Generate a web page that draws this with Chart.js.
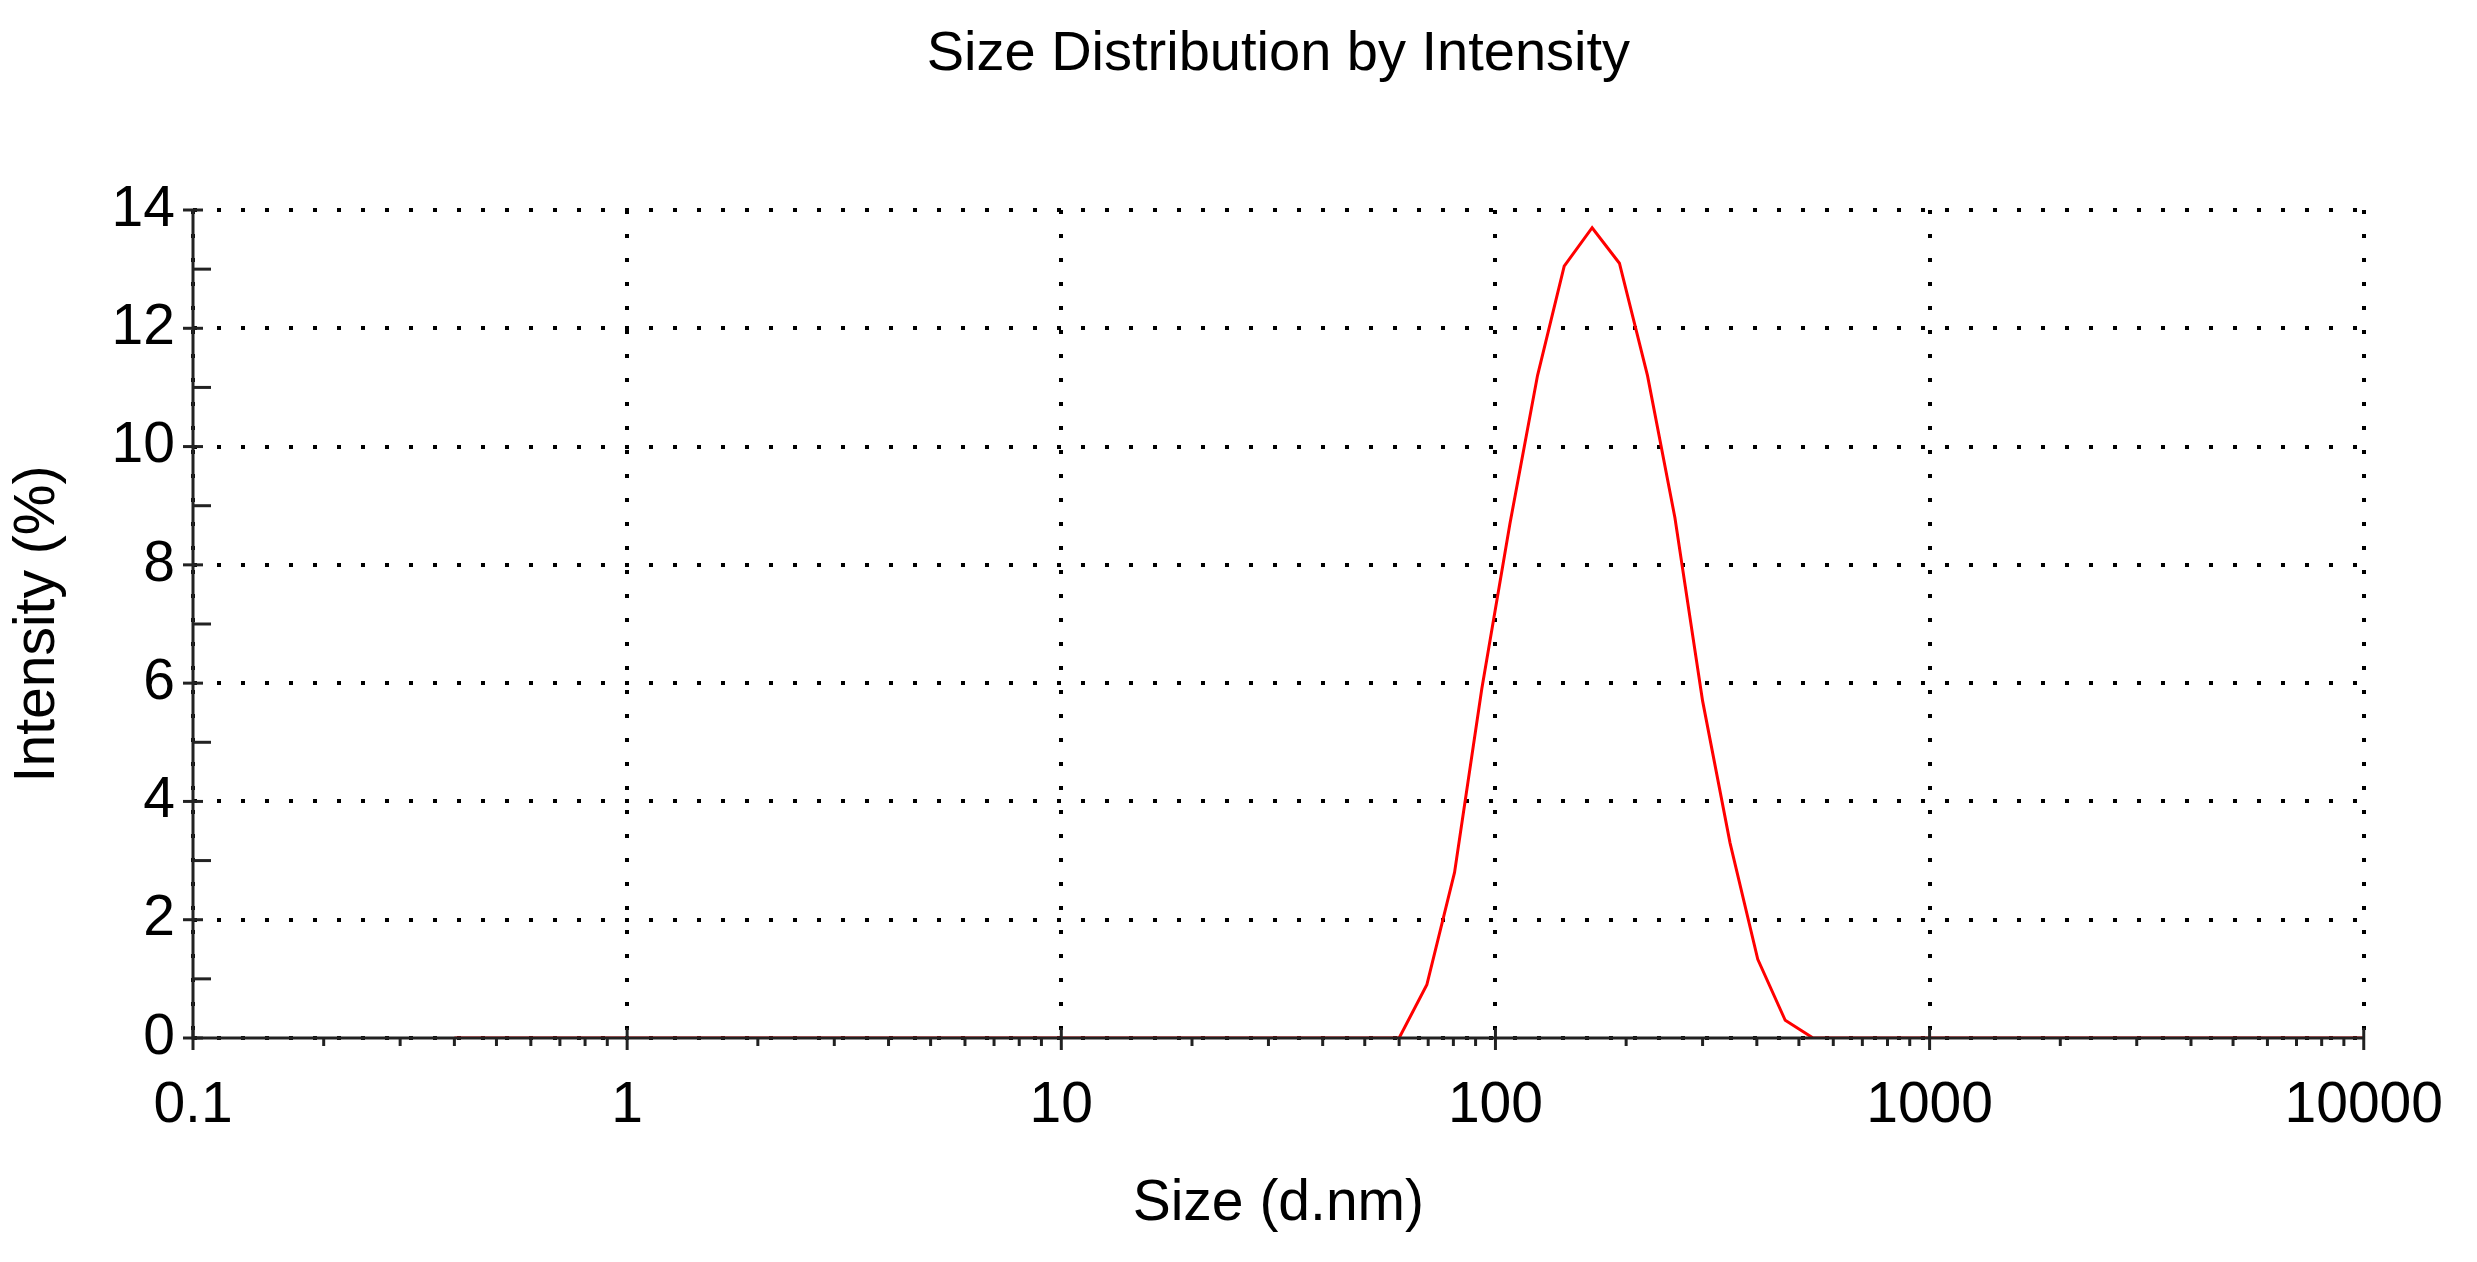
<!DOCTYPE html>
<html><head><meta charset="utf-8">
<script src="https://cdn.jsdelivr.net/npm/chart.js@4/dist/chart.umd.min.js"></script>
<style>html,body{margin:0;padding:0;background:#fff}canvas{display:block}</style>
</head><body>
<div style="width:2477px;height:1262px"><canvas id="c"></canvas></div>
<script>
const chartTitle = "Size Distribution by Intensity";
const xTitle = "Size (d.nm)";
const yTitle = "Intensity (%)";
const sizes =     [0.4, 60, 69.5, 80.5, 93, 108, 125, 144, 167, 193, 224, 259, 300, 347, 402, 465, 539, 10000];
const intensity = [0,   0,  0.9,  2.8, 5.9, 8.7, 11.2,13.05,13.7,13.1,11.2, 8.8, 5.7, 3.3, 1.33,0.3, 0,   0];
const xTickValues = [0.1, 1, 10, 100, 1000, 10000];
const yTickValues = [0, 2, 4, 6, 8, 10, 12, 14];

const FONT = "'Liberation Sans', Arial, sans-serif";
const ticksPlugin = {
  id: 'extras',
  afterDatasetsDraw(chart) {
    const ctx = chart.ctx, x = chart.scales.x, y = chart.scales.y, a = chart.chartArea;
    ctx.save();
    ctx.strokeStyle = '#222'; ctx.lineWidth = 3; ctx.setLineDash([]);
    ctx.beginPath(); ctx.moveTo(a.left, a.top); ctx.lineTo(a.left, a.bottom); ctx.lineTo(a.right, a.bottom); ctx.stroke();
    for (let v = 0; v <= 14; v++) {
      const py = y.getPixelForValue(v);
      ctx.beginPath();
      if (v % 2 === 0) { ctx.moveTo(a.left - 10, py); ctx.lineTo(a.left + 10, py); }
      else { ctx.moveTo(a.left, py); ctx.lineTo(a.left + 18, py); }
      ctx.stroke();
    }
    for (let d = 0.1; d < 10001; d *= 10) {
      for (let m = 1; m <= 9; m++) {
        const v = d * m; if (v > 10000.5) break;
        const px = x.getPixelForValue(v);
        ctx.beginPath();
        ctx.moveTo(px, a.bottom - (m === 1 ? 10 : 0));
        ctx.lineTo(px, a.bottom + (m === 1 ? 12 : 8));
        ctx.stroke();
      }
    }
    ctx.fillStyle = '#000'; ctx.font = '56px ' + FONT; ctx.textAlign = 'center'; ctx.textBaseline = 'middle';
    ctx.fillText(chartTitle, (a.left + a.right) / 2, 55);
    ctx.restore();
  }
};

new Chart(document.getElementById('c'), {
  type: 'line',
  data: { datasets: [{ data: sizes.map((s, i) => ({ x: s, y: intensity[i] })),
    borderColor: '#ff0000', borderWidth: 3, pointRadius: 0, tension: 0, fill: false }] },
  options: {
    responsive: true, maintainAspectRatio: false, animation: false,
    layout: { padding: { top: 210, right: 112, left: 0, bottom: 20 } },
    plugins: { legend: { display: false }, tooltip: { enabled: false } },
    scales: {
      x: {
        type: 'logarithmic', min: 0.1, max: 10000,
        afterBuildTicks(s) { s.ticks = xTickValues.map(v => ({ value: v })); },
        afterFit(s) { s.height = 204; },
        ticks: { autoSkip: false, maxRotation: 0, padding: 34, color: '#000', font: { size: 57, family: FONT },
          callback: v => String(v) },
        grid: { color: '#000', lineWidth: 4, drawTicks: false },
        border: { display: false, dash: [4, 20] },
        title: { display: true, text: xTitle, color: '#000', font: { size: 57, family: FONT }, padding: { top: 22 } }
      },
      y: {
        min: 0, max: 14,
        afterBuildTicks(s) { s.ticks = yTickValues.map(v => ({ value: v })); },
        afterFit(s) { s.width = 193; },
        ticks: { padding: 18, color: '#000', font: { size: 57, family: FONT } },
        grid: { color: '#000', lineWidth: 4, drawTicks: false },
        border: { display: false, dash: [4, 20] },
        title: { display: true, text: yTitle, color: '#000', font: { size: 57, family: FONT }, padding: { bottom: 4 } }
      }
    }
  },
  plugins: [ticksPlugin]
});
</script>
</body></html>
